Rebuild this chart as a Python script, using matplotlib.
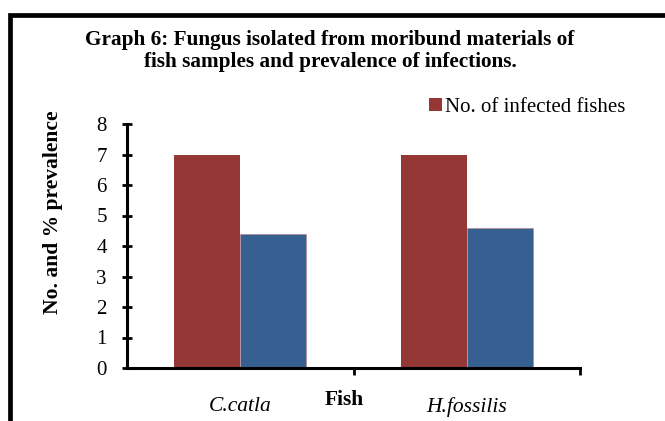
import matplotlib
matplotlib.use("Agg")
import matplotlib.pyplot as plt
from matplotlib.patches import Rectangle
import numpy as np

categories = ["C.catla", "H.fossilis"]
infected = [7, 7]
prevalence = [4.4, 4.6]
yticks = [0, 1, 2, 3, 4, 5, 6, 7, 8]

plt.rcParams['font.family'] = ['Liberation Serif', 'DejaVu Serif']

W, H = 665, 421
fig = plt.figure(figsize=(W / 100, H / 100), dpi=100)
ax = fig.add_axes([127 / W, 1 - 368 / H, (580 - 127) / W, (368 - 124) / H])

x = np.arange(len(categories))
bw = 0.292
ax.bar(x - bw / 2, infected, bw, color="#953735", label="No. of infected fishes")
ax.bar(x + bw / 2, prevalence, bw, color="#376092", edgecolor="#c08080", linewidth=0.4)

ax.set_xlim(-0.5, 1.5)
ax.set_ylim(0, 8)
ax.set_yticks(yticks)
ax.set_yticklabels([str(v) for v in yticks], fontsize=15)
ax.tick_params(axis='y', direction='inout', length=7, width=2, pad=11)

ax.set_xticks(x)
ax.set_xticklabels(categories, fontsize=15.5, style='italic')
ax.tick_params(axis='x', which='major', length=0, pad=21)
ax.set_xticks([0.5, 1.5], minor=True)
ax.tick_params(axis='x', which='minor', direction='out', length=5, width=2)

for s in ['top', 'right']:
    ax.spines[s].set_visible(False)
for s in ['left', 'bottom']:
    ax.spines[s].set_linewidth(2.2)

fig.text(344 / W, 1 - 400 / H, "Fish", ha='center', va='center', fontsize=15.5, fontweight='bold')
fig.text(53 / W, 1 - 212 / H, "No. and % prevalence", ha='center', va='center', rotation=90,
         fontsize=15.5, fontweight='bold')
fig.text(330 / W, 1 - 51 / H,
         "Graph 6: Fungus isolated from moribund materials of\nfish samples and prevalence of infections.",
         ha='center', va='center', fontsize=15.3, fontweight='bold', linespacing=1.15)

leg = fig.legend(handles=[ax.patches[0]], labels=["No. of infected fishes"],
                 loc='center left', bbox_to_anchor=(429 / W, 1 - 107 / H), frameon=False,
                 fontsize=15, handlelength=0.6, handleheight=0.6, handletextpad=0.15,
                 borderpad=0, borderaxespad=0)

border = Rectangle((9.5 / W, -0.1), 1.2, (1 - 15 / H) + 0.1, transform=fig.transFigure,
                   fill=False, edgecolor='black', linewidth=3.4, clip_on=False)
fig.patches.append(border)

fig.savefig("out.png", dpi=100)
